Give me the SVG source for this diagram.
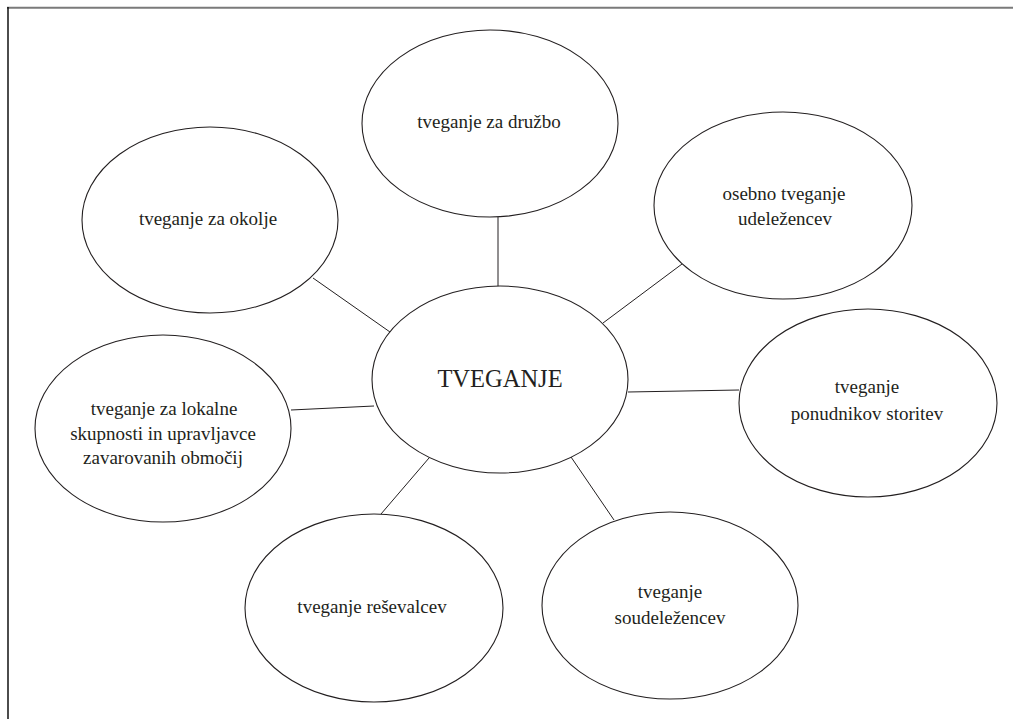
<svg xmlns="http://www.w3.org/2000/svg" width="1013" height="719" viewBox="0 0 1013 719">
<style>
.node ellipse{fill:#ffffff;stroke:#231f20;stroke-width:1.1}
.conn line{stroke:#231f20;stroke-width:1}
text{font-family:"Liberation Serif","Times New Roman",serif;font-size:19px;fill:#231f20;text-anchor:middle}
.main{font-size:24.5px}
</style>
<rect x="0" y="0" width="1013" height="719" fill="#ffffff"/>
<g id="frame">
<line x1="7" y1="7.7" x2="1013" y2="7.7" stroke="#7a7a7a" stroke-width="2"/>
<line x1="8" y1="7" x2="8" y2="719" stroke="#000000" stroke-width="1.4"/>
</g>
<g id="connectors" class="conn">
<line x1="498" y1="217" x2="498" y2="287"/>
<line x1="313" y1="278" x2="390" y2="332"/>
<line x1="682" y1="264" x2="603" y2="323"/>
<line x1="628" y1="392" x2="739" y2="390"/>
<line x1="571" y1="457" x2="614" y2="520"/>
<line x1="429" y1="458" x2="381" y2="514"/>
<line x1="291" y1="410" x2="374" y2="406"/>
</g>
<g id="node-center" class="node">
<ellipse cx="500" cy="379.5" rx="128" ry="93.5"/>
<text class="main" x="500" y="387">TVEGANJE</text>
</g>
<g id="node-druzbo" class="node">
<ellipse cx="490" cy="123.5" rx="128" ry="93.5"/>
<text x="489" y="128">tveganje za družbo</text>
</g>
<g id="node-okolje" class="node">
<ellipse cx="210" cy="220" rx="128" ry="93"/>
<text x="208" y="225">tveganje za okolje</text>
</g>
<g id="node-osebno" class="node">
<ellipse cx="783" cy="205.5" rx="129" ry="93.5"/>
<text x="784" y="200">osebno tveganje</text>
<text x="785" y="225">udeležencev</text>
</g>
<g id="node-ponudnikov" class="node">
<ellipse cx="868" cy="403" rx="129" ry="94"/>
<text x="867" y="393">tveganje</text>
<text x="867" y="420">ponudnikov storitev</text>
</g>
<g id="node-soudelezencev" class="node">
<ellipse cx="670" cy="605.5" rx="128" ry="93.5"/>
<text x="670" y="598">tveganje</text>
<text x="670" y="624">soudeležencev</text>
</g>
<g id="node-resevalcev" class="node">
<ellipse cx="374" cy="608" rx="129" ry="94"/>
<text x="372" y="613">tveganje reševalcev</text>
</g>
<g id="node-lokalne" class="node">
<ellipse cx="163" cy="428.5" rx="128" ry="93.5"/>
<text x="164" y="415">tveganje za lokalne</text>
<text x="163" y="440">skupnosti in upravljavce</text>
<text x="163" y="464">zavarovanih območij</text>
</g>
</svg>
